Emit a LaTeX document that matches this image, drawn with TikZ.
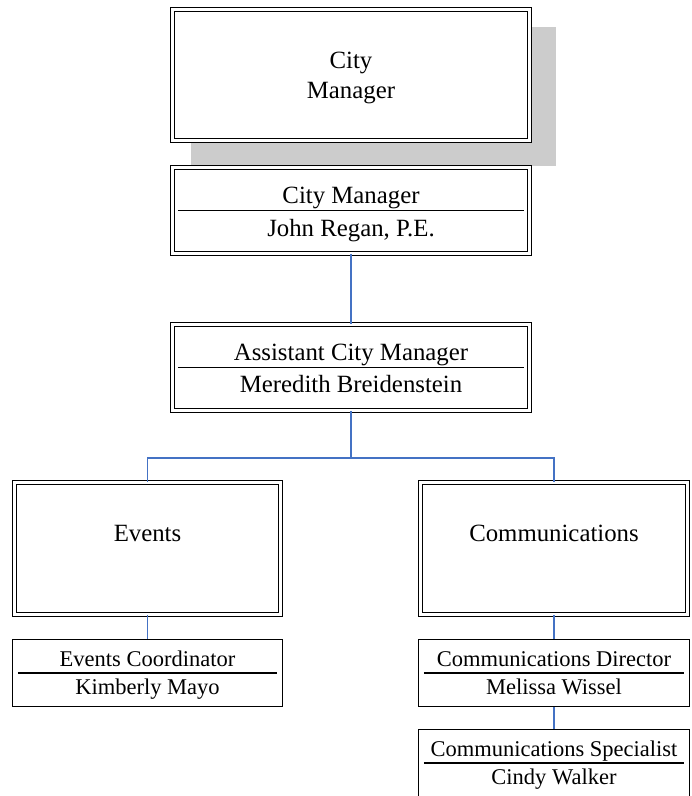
\documentclass[tikz,border=0pt]{standalone}
\usepackage{fontspec}
\setmainfont{Liberation Serif}
\usetikzlibrary{positioning,calc,backgrounds}
\definecolor{linkblue}{RGB}{68,114,196}
\definecolor{shadegray}{RGB}{204,204,204}
\tikzset{
  dbox/.style  = {draw=black, double, line width=1.4pt, double distance=2.4pt, fill=white, inner sep=0pt, align=center, font=\fontsize{24.8}{30}\selectfont},
  sbox/.style  = {draw=black, line width=1.5pt, fill=white, inner sep=0pt, align=center, font=\fontsize{22.5}{28}\selectfont},
  link/.style  = {draw=linkblue, line width=1.3pt},
  sep/.style   = {draw=black, line width=1.6pt},
}
\newcommand{\sepline}[1]{\draw[sep] ([xshift=6pt]#1.west) -- ([xshift=-6pt]#1.east);}
\newcommand{\lift}[1]{\rule{0pt}{#1}}

\begin{document}
\begin{tikzpicture}[x=1pt, y=-1pt]
  \useasboundingbox (0,0) rectangle (692,796);
  % top title box with its shadow
  \node[dbox, minimum width=356.8pt, minimum height=130.8pt] (title) at (351,75) {\lift{23pt}City\\Manager};
  \begin{scope}[on background layer]
    \fill[shadegray] ($(title.south west)+(19.5,24.5)$) rectangle ($(title.north east)+(25.5,18.5)$);
  \end{scope}
  \node[dbox, minimum width=356.8pt, minimum height=85.8pt, font=\fontsize{24.8}{33}\selectfont] (cm) at (351,210.5) {\lift{24pt}City Manager\\John Regan, P.E.};
  \node[dbox, minimum width=356.8pt, minimum height=85.8pt, font=\fontsize{24.8}{32}\selectfont] (acm) at (351,367.5) {\lift{19pt}Assistant City Manager\\Meredith Breidenstein};
  \node[dbox, minimum width=265.8pt, minimum height=131.8pt] (ev) at (147.5,548.5) {Events\\~};
  \node[dbox, minimum width=266.8pt, minimum height=131.8pt] (com) at (554,548.5) {Communications\\~};
  \node[sbox, minimum width=269.7pt, minimum height=66.7pt] (evc) at (147.5,673) {\lift{19pt}Events Coordinator\\Kimberly Mayo};
  \node[sbox, minimum width=270.7pt, minimum height=66.7pt] (cd) at (554,673) {Communications Director\\Melissa Wissel};
  \node[sbox, minimum width=270.7pt, minimum height=66.7pt] (cs) at (554,763) {\lift{19pt}Communications Specialist\\Cindy Walker};
  \sepline{cm}
  \sepline{acm}
  \sepline{evc}
  \sepline{cd}
  \sepline{cs}
  % connectors
  \coordinate (bus) at (351,458);
  \draw[link] (cm) -- (acm);
  \draw[link] (acm.south) -- (bus) -| (ev.north);
  \draw[link] (bus) -| (com.north);
  \draw[link] (ev) -- (evc);
  \draw[link] (com) -- (cd);
  \draw[link] (cd) -- (cs);
\end{tikzpicture}
\end{document}
